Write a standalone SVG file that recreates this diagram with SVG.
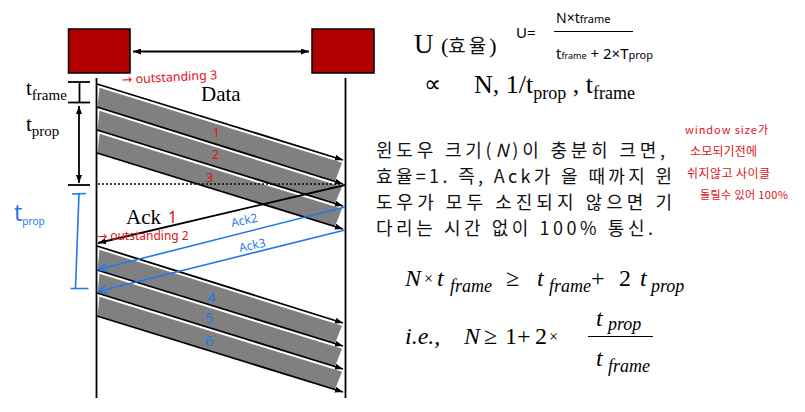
<svg xmlns="http://www.w3.org/2000/svg" width="805" height="412" viewBox="0 0 805 412">
<defs>
<style>
.serif{font-family:"Liberation Serif","Times New Roman",serif;fill:#000}
.it{font-style:italic}
.kr{font-family:"Noto Sans CJK KR","Noto Sans",sans-serif;fill:#111}
.red{font-family:"Noto Sans CJK KR","Noto Sans",sans-serif;fill:#e0101a}
.redl{font-family:"Noto Sans","Liberation Sans",sans-serif;fill:#e0101a}
.arr{font-family:"DejaVu Sans",sans-serif}
.blue{font-family:"Noto Sans","Liberation Sans",sans-serif;fill:#1f7ae8}
.hand{font-family:"Noto Sans","Liberation Sans",sans-serif;fill:#000}
.band{fill:#808080}
.ln{stroke:#000;stroke-width:1.8;fill:none}
.bl{stroke:#1f7ae8;stroke-width:1.6;fill:none}
.node{fill:#b00000;stroke:#000;stroke-width:1.5}
</style>
<marker id="ah" viewBox="0 0 10 10" refX="10" refY="5" markerWidth="8" markerHeight="6" markerUnits="userSpaceOnUse" orient="auto-start-reverse" preserveAspectRatio="none"><path d="M0,0L10,5L0,10z" fill="#000"/></marker>
<marker id="ahb" viewBox="0 0 10 10" refX="9" refY="5" markerWidth="10" markerHeight="9" markerUnits="userSpaceOnUse" orient="auto" preserveAspectRatio="none"><path d="M0,0.5L9,5L0,9.5" fill="none" stroke="#1f7ae8" stroke-width="1.5"/></marker>
</defs>
<rect width="805" height="412" fill="#fff"/>

<g id="sender"><rect class="node" x="68.5" y="29" width="61.5" height="44"/><line class="ln" x1="96.5" y1="78" x2="96.5" y2="398" stroke-width="2"/></g>
<g id="receiver"><rect class="node" x="312" y="29" width="62" height="44"/><line class="ln" x1="345.5" y1="78" x2="345.5" y2="398" stroke-width="2"/></g>

<g id="bands">
<polygon class="band" points="99.5,87.8 342,162.7 335,181.5 97.5,107.2"/>
<polygon class="band" points="99.5,110.8 342,186.7 335,203.5 97.5,130.2"/>
<polygon class="band" points="99.5,133.8 342,208.7 335,226.5 97.5,153.2"/>
<polygon class="band" points="99.5,249.8 342,325.7 335,343.5 97.5,270.2"/>
<polygon class="band" points="99.5,273.8 342,348.7 335,366.5 97.5,293.2"/>
<polygon class="band" points="99.5,296.8 342,371.7 335,389.5 97.5,316.2"/>
</g>

<g id="connectors">
<line class="ln" x1="133" y1="51.5" x2="309" y2="51.5" stroke-width="1.5" marker-start="url(#ah)" marker-end="url(#ah)"/>
<line class="ln" x1="97" y1="84" x2="343" y2="160" marker-end="url(#ah)"/>
<line class="ln" x1="97" y1="107" x2="343" y2="184" marker-end="url(#ah)"/>
<line class="ln" x1="97" y1="130" x2="343" y2="206" marker-end="url(#ah)"/>
<line class="ln" x1="97" y1="153" x2="343" y2="229" marker-end="url(#ah)"/>
<line class="ln" x1="97" y1="246" x2="343" y2="323" marker-end="url(#ah)"/>
<line class="ln" x1="97" y1="270" x2="343" y2="346" marker-end="url(#ah)"/>
<line class="ln" x1="97" y1="293" x2="343" y2="369" marker-end="url(#ah)"/>
<line class="ln" x1="97" y1="316" x2="343" y2="392" marker-end="url(#ah)"/>
<line x1="98" y1="184" x2="343" y2="184" stroke="#000" stroke-width="1.6" stroke-dasharray="2,2"/>
<line class="ln" x1="345" y1="185" x2="98" y2="243" marker-end="url(#ah)"/>
<line class="bl" x1="345" y1="207" x2="98" y2="269.5" marker-end="url(#ahb)"/>
<line class="bl" x1="345" y1="230" x2="98" y2="291.5" marker-end="url(#ahb)"/>
</g>

<g id="timing-marks">
<line class="ln" x1="68" y1="82" x2="90" y2="82" stroke-width="1.8"/>
<line class="ln" x1="68" y1="102.5" x2="90" y2="102.5" stroke-width="1.8"/>
<line class="ln" x1="79.5" y1="82" x2="79.5" y2="102.5" stroke-width="1.4"/>
<line class="ln" x1="79" y1="106" x2="79" y2="183" stroke-width="1.5" marker-start="url(#ah)" marker-end="url(#ah)"/>
<line class="ln" x1="68" y1="185" x2="90" y2="185" stroke-width="1.8"/>
<text class="serif" x="26" y="95" font-size="21">t<tspan font-size="15" dy="5">frame</tspan></text>
<text class="serif" x="26" y="131" font-size="21">t<tspan font-size="15" dy="5">prop</tspan></text>
<path d="M72,194 L86,193.5 M79,194 L75.5,288 M70.5,288.5 L88.5,288.5" stroke="#1f7ae8" stroke-width="1.6" fill="none"/>
<text class="blue" x="14" y="221" font-size="23">t<tspan font-size="10" dy="4">prop</tspan></text>
</g>

<g id="labels">
<text class="serif" x="201" y="101" font-size="21">Data</text>
<text class="serif" x="126" y="224" font-size="21">Ack</text>
<text class="redl" x="168" y="223" font-size="16">1</text>
<text class="redl" x="122" y="84" font-size="12.5" transform="rotate(-3 122 84)"><tspan class="arr">→</tspan> outstanding 3</text>
<text class="redl" x="97" y="240" font-size="12"><tspan class="arr">→</tspan> outstanding 2</text>
<text class="redl" x="213" y="137" font-size="12">1</text>
<text class="redl" x="212" y="159" font-size="12">2</text>
<text class="redl" x="206" y="182" font-size="13">3</text>
<text class="blue" x="232" y="227" font-size="12" transform="rotate(-12 232 227)">Ack2</text>
<text class="blue" x="240" y="252" font-size="12" transform="rotate(-12 240 252)">Ack3</text>
<text class="blue" x="207" y="303" font-size="15">4</text>
<text class="blue" x="205" y="323" font-size="15">5</text>
<text class="blue" x="205" y="346" font-size="15">6</text>
</g>

<g id="formula-top">
<text class="serif" x="414" y="53" font-size="27">U</text>
<text class="serif" x="441" y="53" font-size="22">(<tspan class="kr" font-size="19" letter-spacing="3">효율</tspan>)</text>
<text class="hand" x="516" y="38" font-size="15">U=</text>
<text class="hand" x="556" y="23" font-size="14">N×t<tspan font-size="11">frame</tspan></text>
<line x1="554" y1="31.5" x2="633" y2="31.5" stroke="#000" stroke-width="1.2"/>
<text class="hand" x="556" y="59" font-size="15">t<tspan font-size="9">frame</tspan> + 2×T<tspan font-size="11">prop</tspan></text>
<text class="serif" x="424" y="92" font-size="24">∝</text>
<text class="serif" x="474" y="93" font-size="26">N, 1/t<tspan font-size="18" dy="6">prop</tspan><tspan dy="-6"> , t</tspan><tspan font-size="18" dy="6">frame</tspan></text>
</g>

<g id="description">
<text class="kr" x="376" y="157" font-size="18" textLength="289" lengthAdjust="spacing">윈도우 크기(<tspan font-style="italic">N</tspan>)이 충분히 크면,</text>
<text class="kr" x="376" y="183" font-size="18" textLength="296" lengthAdjust="spacing">효율=1. 즉, Ack가 올 때까지 윈</text>
<text class="kr" x="376" y="209" font-size="18" textLength="296" lengthAdjust="spacing">도우가 모두 소진되지 않으면 기</text>
<text class="kr" x="376" y="235" font-size="18" textLength="277" lengthAdjust="spacing">다리는 시간 없이 100% 통신.</text>
</g>

<g id="note">
<text class="red" x="685" y="134" font-size="11" textLength="83" lengthAdjust="spacing">window size가</text>
<text class="red" x="690" y="156" font-size="12" textLength="67" lengthAdjust="spacing">소모되기전에</text>
<text class="red" x="687" y="178" font-size="12" textLength="83" lengthAdjust="spacing">쉬지않고 사이클</text>
<text class="red" x="700" y="199" font-size="11" textLength="88" lengthAdjust="spacing">돌릴수 있어 100%</text>
</g>

<g id="equations">
<text class="serif it" x="405" y="286" font-size="24">N</text>
<text class="serif" x="424" y="284" font-size="16">×</text>
<text class="serif it" x="437" y="286" font-size="24">t</text>
<text class="serif it" x="450" y="292" font-size="18">frame</text>
<text class="serif" x="506" y="286" font-size="24">≥</text>
<text class="serif it" x="537" y="286" font-size="24">t</text>
<text class="serif it" x="549" y="292" font-size="18">frame</text>
<text class="serif" x="591" y="286" font-size="24">+</text>
<text class="serif" x="619" y="286" font-size="24">2</text>
<text class="serif it" x="640" y="286" font-size="24">t</text>
<text class="serif it" x="651" y="292" font-size="18">prop</text>

<text class="serif it" x="405" y="344" font-size="24">i.e.,</text>
<text class="serif it" x="464" y="344" font-size="24">N</text>
<text class="serif" x="484" y="344" font-size="24">≥</text>
<text class="serif" x="505" y="344" font-size="24">1+</text>
<text class="serif" x="535" y="344" font-size="24">2</text>
<text class="serif" x="549" y="342" font-size="16">×</text>
<text class="serif it" x="596" y="326" font-size="24">t</text>
<text class="serif it" x="608" y="330" font-size="18">prop</text>
<line x1="588" y1="336.5" x2="653" y2="336.5" stroke="#000" stroke-width="1.2"/>
<text class="serif it" x="596" y="366" font-size="24">t</text>
<text class="serif it" x="608" y="372" font-size="18">frame</text>
</g>
</svg>
